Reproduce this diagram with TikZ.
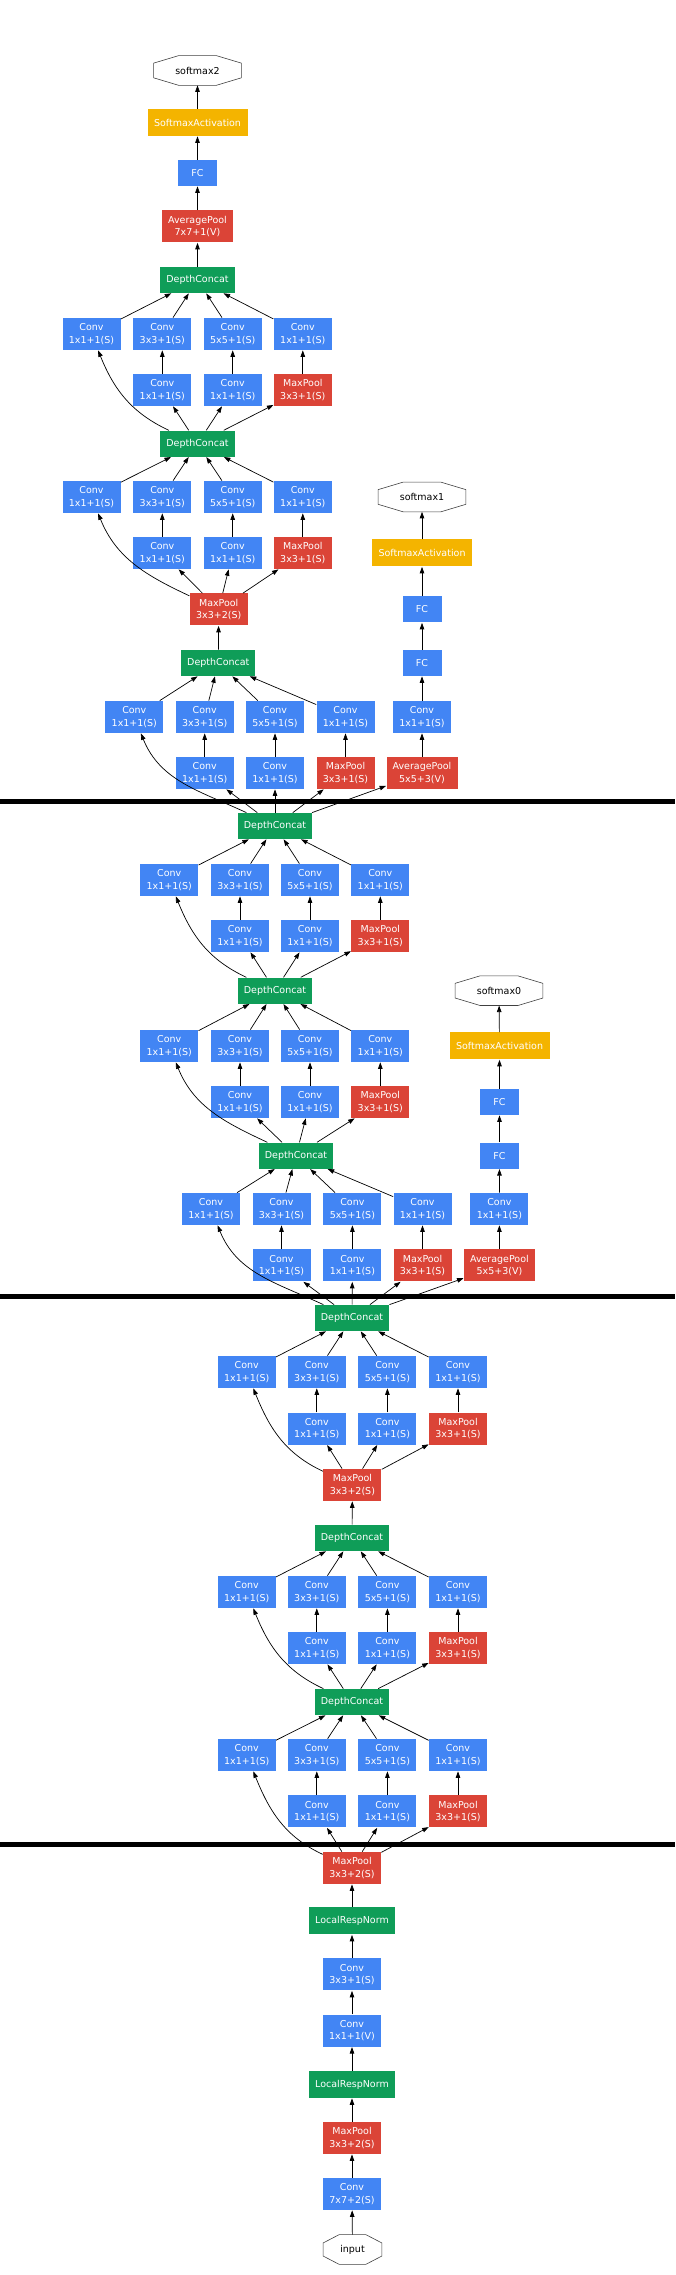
\documentclass[tikz,border=0pt]{standalone}
\usepackage{fontspec}
\setmainfont{DejaVu Sans}
\usetikzlibrary{arrows.meta}

\definecolor{convblue}{RGB}{66,133,244}
\definecolor{poolred}{RGB}{219,68,55}
\definecolor{concatgreen}{RGB}{15,157,88}
\definecolor{softyellow}{RGB}{244,180,0}

\tikzset{
  layer/.style={rectangle, text=white, align=center, inner xsep=5pt, inner ysep=0pt,
    minimum width=58pt, minimum height=32pt, font=\fontsize{9.5}{12.3}\selectfont},
  conv/.style={layer, fill=convblue},
  pool/.style={layer, fill=poolred},
  concat/.style={layer, fill=concatgreen, minimum height=26pt, inner xsep=6pt},
  fc/.style={layer, fill=convblue, minimum width=39pt, minimum height=26pt},
  softact/.style={layer, fill=softyellow, minimum height=27pt, inner xsep=6.5pt},
  lrn/.style={layer, fill=concatgreen, minimum height=27pt, inner xsep=6pt},
  endpoint/.style={rectangle, text=black, inner ysep=0pt, minimum height=29pt,
    font=\fontsize{9.5}{12.3}\selectfont},
  octline/.style={draw=black!75, line width=.6pt},
  stage/.style={line width=5pt},
}

% octagon drawn round a node: name, corner cut x, corner cut y
\newcommand{\octframe}[3]{%
  \draw[octline] ([xshift=#2]#1.north west) -- ([xshift=-#2]#1.north east)
    -- ([yshift=-#3]#1.north east) -- ([yshift=#3]#1.south east)
    -- ([xshift=-#2]#1.south east) -- ([xshift=#2]#1.south west)
    -- ([yshift=#3]#1.south west) -- ([yshift=-#3]#1.north west) -- cycle;}

% inception module: name, four column x, row y (upper, lower), concat position, input node
\newcommand{\inception}[9]{%
  \node[conv] (#1c1) at (#2,#6) {Conv\\1x1+1(S)};
  \node[conv] (#1c3) at (#3,#6) {Conv\\3x3+1(S)};
  \node[conv] (#1c5) at (#4,#6) {Conv\\5x5+1(S)};
  \node[conv] (#1pp) at (#5,#6) {Conv\\1x1+1(S)};
  \node[conv] (#1r3) at (#3,#7) {Conv\\1x1+1(S)};
  \node[conv] (#1r5) at (#4,#7) {Conv\\1x1+1(S)};
  \node[pool] (#1mp) at (#5,#7) {MaxPool\\3x3+1(S)};
  \node[concat] (#1) at (#8) {DepthConcat};
  \draw[->] (#9) to[out=155,in=-68] (#1c1);
  \foreach \b in {r3,r5,mp} \draw[->] (#9) -- (#1\b);
  \draw[->] (#1r3) -- (#1c3);
  \draw[->] (#1r5) -- (#1c5);
  \draw[->] (#1mp) -- (#1pp);
  \foreach \b in {c1,c3,c5,pp} \draw[->] (#1\b) -- (#1);
}

\begin{document}
\begin{tikzpicture}[x=1pt, y=1pt, line width=.7pt, >={Triangle[length=6.5pt,width=4.5pt]}]
\useasboundingbox (0,0) rectangle (675,2275);

% stem
\node[endpoint, minimum width=58pt] (input) at (352.5,25.5) {input};
\octframe{input}{16pt}{8.3pt}
\node[conv] (conv1) at (352,81) {Conv\\7x7+2(S)};
\node[pool] (pool1) at (352,137) {MaxPool\\3x3+2(S)};
\node[lrn] (norm1) at (352,190.5) {LocalRespNorm};
\node[conv] (conv2r) at (352,244.3) {Conv\\1x1+1(V)};
\node[conv] (conv2) at (352,300.5) {Conv\\3x3+1(S)};
\node[lrn] (norm2) at (352,354) {LocalRespNorm};
\node[pool] (pool2) at (352,407) {MaxPool\\3x3+2(S)};
\draw[->] (input) -- (conv1);
\draw[->] (conv1) -- (pool1);
\draw[->] (pool1) -- (norm1);
\draw[->] (norm1) -- (conv2r);
\draw[->] (conv2r) -- (conv2);
\draw[->] (conv2) -- (norm2);
\draw[->] (norm2) -- (pool2);

% inception 3
\inception{iA}{246.7}{316.8}{387.4}{458}{520}{463.5}{352,573}{pool2}
\inception{iB}{246.7}{316.8}{387.4}{458}{683}{627}{352,737}{iA}
\node[pool] (pool3) at (352.4,790) {MaxPool\\3x3+2(S)};
\draw[->] (iB) -- (pool3);

% inception 4
\inception{iC}{246.7}{316.8}{387.4}{458}{903}{846.3}{352,957}{pool3}
\inception{iD}{211}{281.5}{352.4}{422.5}{1066}{1009.5}{296,1119.3}{iC}
\inception{iE}{169.2}{240}{310}{380.3}{1229}{1173}{275,1284.3}{iD}
\inception{iF}{169.2}{240}{310}{380.3}{1395}{1339}{275,1449}{iE}
\inception{iG}{134.3}{204.7}{275}{345.5}{1558}{1502}{218.3,1612}{iF}
\node[pool] (pool4) at (218.7,1665.5) {MaxPool\\3x3+2(S)};
\draw[->] (iG) -- (pool4);

% inception 5
\inception{iH}{91.5}{162.3}{232.7}{302.8}{1778}{1722}{197.5,1831.3}{pool4}
\inception{iI}{91.5}{162.3}{232.7}{302.8}{1941}{1885}{197.5,1995}{iH}

% main output
\node[pool, minimum width=71pt] (pool5) at (197.5,2048.5) {AveragePool\\7x7+1(V)};
\node[fc] (fc) at (197.5,2102) {FC};
\node[softact] (act2) at (197.5,2152.5) {SoftmaxActivation};
\node[endpoint, minimum width=87pt] (out2) at (197.5,2204.5) {softmax2};
\octframe{out2}{25pt}{7.5pt}
\draw[->] (iI) -- (pool5);
\draw[->] (pool5) -- (fc);
\draw[->] (fc) -- (act2);
\draw[->] (act2) -- (out2);

% auxiliary output 0
\node[pool, minimum width=71pt] (auxApool) at (499.4,1009.5) {AveragePool\\5x5+3(V)};
\node[conv] (auxAconv) at (499.4,1066) {Conv\\1x1+1(S)};
\node[fc] (auxAfc1) at (499.5,1119.3) {FC};
\node[fc] (auxAfc2) at (499.5,1173) {FC};
\node[softact] (auxAact) at (499.5,1229) {SoftmaxActivation};
\node[endpoint, minimum width=87pt] (out0) at (499,1284.3) {softmax0};
\octframe{out0}{25pt}{7.5pt}
\draw[->] (iC) -- (auxApool);
\draw[->] (auxApool) -- (auxAconv);
\draw[->] (auxAconv) -- (auxAfc1);
\draw[->] (auxAfc1) -- (auxAfc2);
\draw[->] (auxAfc2) -- (auxAact);
\draw[->] (auxAact) -- (out0);

% auxiliary output 1
\node[pool, minimum width=71pt] (auxBpool) at (422,1502) {AveragePool\\5x5+3(V)};
\node[conv] (auxBconv) at (422,1558) {Conv\\1x1+1(S)};
\node[fc] (auxBfc1) at (422,1612) {FC};
\node[fc] (auxBfc2) at (422,1665.5) {FC};
\node[softact] (auxBact) at (422,1722) {SoftmaxActivation};
\node[endpoint, minimum width=87pt] (out1) at (422,1778) {softmax1};
\octframe{out1}{25pt}{7.5pt}
\draw[->] (iF) -- (auxBpool);
\draw[->] (auxBpool) -- (auxBconv);
\draw[->] (auxBconv) -- (auxBfc1);
\draw[->] (auxBfc1) -- (auxBfc2);
\draw[->] (auxBfc2) -- (auxBact);
\draw[->] (auxBact) -- (out1);

% stage separators
\draw[stage] (0,430.5) -- (675,430.5);
\draw[stage] (0,978.5) -- (675,978.5);
\draw[stage] (0,1473) -- (675,1473);

\end{tikzpicture}
\end{document}
